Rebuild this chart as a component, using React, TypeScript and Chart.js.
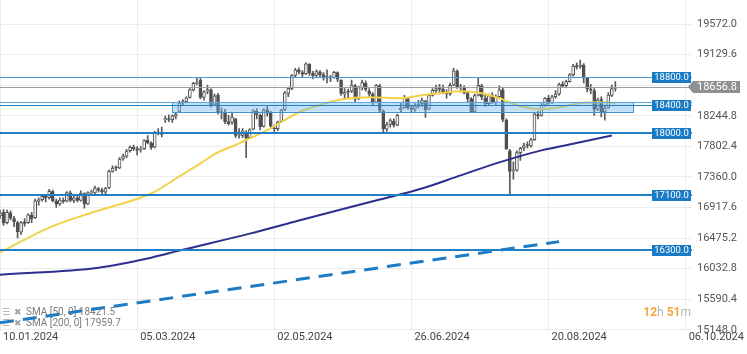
import React, { useEffect, useRef } from 'react';
import { Chart, registerables } from 'chart.js';

Chart.register(...registerables);

// ---- Candles (DE40 daily, index = trading day from 10.01.2024) ----
const opens = [
  16800, 16850, 16700, 16840, 16760, 16700, 16560, 16710, 16700, 16810,
  16770, 17010, 17030, 17080, 17060, 17150, 17010, 16970, 17020, 17010,
  17130, 17020, 17060, 17020, 17120, 16970, 17130, 17130, 17190, 17170,
  17140, 17200, 17440, 17490, 17490, 17620, 17660, 17740, 17790, 17770,
  17750, 17770, 17890, 17850, 17790, 18000, 18000, 18190, 18200, 18190,
  18240, 18300, 18430, 18450, 18510, 18620, 18710, 18760, 18510, 18600,
  18620, 18400, 18540, 18290, 18300, 18160, 18150, 18200, 17960, 17960,
  18010, 17930, 18050, 18310, 18250, 18090, 18330, 18280, 18060, 18060,
  18160, 18330, 18570, 18640, 18830, 18910, 18870, 18850, 18990, 18860,
  18830, 18880, 18840, 18800, 18790, 18800, 18870, 18760, 18560, 18590,
  18600, 18680, 18490, 18650, 18720, 18600, 18560, 18440, 18680, 18310,
  18050, 18120, 18170, 18110, 18330, 18360, 18500, 18360, 18340, 18390,
  18420, 18460, 18340, 18540, 18610, 18640, 18630, 18590, 18560, 18690,
  18890, 18650, 18650, 18580, 18490, 18310, 18540, 18680, 18500, 18420,
  18540, 18440, 18520, 18620, 18180, 17740, 17450, 17460, 17710, 17780,
  17820, 17810, 17900, 18260, 18250, 18400, 18500, 18430, 18520, 18560,
  18700, 18680, 18740, 18840, 18960, 18960, 18980, 18790, 18630, 18610,
  18340, 18480, 18300, 18360, 18540, 18640,
];
const highs = [
  16880, 16890, 16880, 16870, 16790, 16720, 16720, 16760, 16830, 16850,
  17040, 17060, 17110, 17100, 17180, 17170, 17040, 17060, 17060, 17150,
  17160, 17090, 17100, 17160, 17130, 17150, 17170, 17230, 17210, 17200,
  17210, 17460, 17520, 17520, 17640, 17690, 17760, 17810, 17820, 17800,
  17800, 17900, 17960, 17870, 18020, 18060, 18080, 18240, 18260, 18260,
  18290, 18460, 18480, 18520, 18640, 18730, 18800, 18790, 18610, 18690,
  18640, 18560, 18570, 18360, 18340, 18250, 18300, 18210, 18060, 18060,
  18030, 18060, 18330, 18350, 18270, 18350, 18380, 18310, 18110, 18170,
  18340, 18600, 18660, 18840, 18930, 18940, 18900, 19010, 19000, 18890,
  18910, 18900, 18870, 18910, 18830, 18890, 18880, 18770, 18640, 18630,
  18760, 18700, 18670, 18760, 18750, 18640, 18580, 18700, 18700, 18330,
  18150, 18200, 18200, 18270, 18420, 18540, 18510, 18400, 18420, 18470,
  18500, 18470, 18560, 18640, 18690, 18700, 18690, 18620, 18720, 18930,
  18910, 18700, 18680, 18600, 18510, 18560, 18790, 18700, 18540, 18560,
  18580, 18550, 18680, 18650, 18200, 17760, 17580, 17740, 17790, 17850,
  17870, 17920, 18300, 18310, 18420, 18510, 18540, 18540, 18610, 18720,
  18740, 18760, 18860, 18990, 19010, 19050, 19000, 18800, 18700, 18640,
  18500, 18520, 18400, 18580, 18690, 18740,
];
const lows = [
  16760, 16660, 16680, 16740, 16640, 16480, 16530, 16650, 16690, 16700,
  16760, 16950, 17010, 17000, 17040, 17000, 16920, 16950, 16980, 17000,
  17000, 16990, 17000, 17010, 16910, 16960, 17090, 17120, 17140, 17090,
  17110, 17190, 17430, 17450, 17480, 17600, 17640, 17720, 17740, 17680,
  17720, 17760, 17840, 17760, 17780, 17970, 17940, 18150, 18160, 18150,
  18200, 18290, 18400, 18430, 18500, 18600, 18690, 18490, 18470, 18560,
  18370, 18390, 18270, 18200, 18130, 18110, 18120, 17930, 17920, 17930,
  17640, 17920, 18040, 18200, 18040, 18080, 18240, 18060, 17990, 18030,
  18150, 18320, 18520, 18620, 18800, 18850, 18810, 18840, 18830, 18780,
  18810, 18800, 18760, 18720, 18740, 18790, 18740, 18540, 18500, 18500,
  18580, 18450, 18480, 18620, 18600, 18520, 18400, 18430, 18300, 18010,
  18020, 18080, 18080, 18100, 18300, 18350, 18340, 18300, 18310, 18360,
  18380, 18220, 18330, 18530, 18580, 18560, 18560, 18500, 18540, 18680,
  18640, 18590, 18560, 18450, 18290, 18300, 18530, 18480, 18380, 18400,
  18420, 18400, 18510, 18160, 17760, 17120, 17330, 17440, 17600, 17740,
  17780, 17790, 17890, 18200, 18240, 18380, 18410, 18420, 18500, 18540,
  18660, 18660, 18730, 18820, 18920, 18930, 18720, 18590, 18560, 18250,
  18320, 18230, 18180, 18350, 18520, 18600,
];
const closes = [
  16839, 16694, 16850, 16764, 16712, 16569, 16702, 16687, 16813, 16754,
  17014, 17029, 17080, 17059, 17151, 17016, 16968, 17025, 17008, 17134,
  17021, 17059, 17020, 17128, 16969, 17133, 17130, 17198, 17170, 17144,
  17191, 17441, 17487, 17489, 17619, 17662, 17736, 17790, 17769, 17748,
  17764, 17887, 17857, 17786, 18003, 17996, 17975, 18199, 18192, 18244,
  18268, 18429, 18452, 18504, 18624, 18713, 18725, 18512, 18593, 18626,
  18394, 18534, 18289, 18306, 18160, 18132, 18226, 17962, 17962, 18026,
  17922, 18042, 18316, 18264, 18089, 18329, 18283, 18094, 18054, 18156,
  18326, 18578, 18643, 18827, 18911, 18876, 18847, 18997, 18862, 18825,
  18885, 18840, 18791, 18798, 18797, 18874, 18774, 18567, 18586, 18585,
  18691, 18485, 18653, 18725, 18627, 18560, 18432, 18690, 18321, 18055,
  18117, 18177, 18110, 18250, 18354, 18512, 18361, 18336, 18390, 18411,
  18464, 18335, 18542, 18615, 18637, 18631, 18586, 18561, 18685, 18896,
  18661, 18660, 18578, 18491, 18305, 18538, 18686, 18513, 18422, 18538,
  18437, 18525, 18621, 18192, 17767, 17442, 17454, 17713, 17775, 17815,
  17815, 17898, 18269, 18247, 18400, 18497, 18429, 18518, 18560, 18697,
  18678, 18739, 18838, 18965, 18957, 18978, 18791, 18634, 18615, 18338,
  18476, 18296, 18358, 18543, 18640, 18656.8,
];

// ---- Moving averages (read at sample positions) ----
const sma50Index = [0, 14, 28, 43, 51, 57, 61, 68, 77, 85, 91, 97, 105, 114, 120, 125, 131, 137, 142, 148, 154, 159, 165, 171, 175];
const sma50Values = [16266, 16628, 16875, 17121, 17368, 17556, 17690, 17847, 18064, 18296, 18400, 18480, 18514, 18499, 18543, 18572, 18600, 18572, 18499, 18383, 18340, 18369, 18427, 18441, 18421.5];
const sma200Index = [0, 28, 43, 51, 71, 85, 97, 108, 120, 131, 142, 154, 165, 174];
const sma200Values = [15947, 16048, 16193, 16295, 16541, 16730, 16890, 17034, 17194, 17383, 17571, 17745, 17861, 17959.7];

// ---- Trend line ----
const trendIndex = [0, 159];
const trendValues = [15251, 16425];

// ---- Levels / zone / price ----
const levelValues = [18800, 18400, 18000, 17100, 16300];
const zoneRange = [18303, 18448];
const zoneIndexRange = [49, 180];
const currentPrice = 18656.8;

// ---- Axes ----
const xTickIndexes = [0, 39, 78, 117, 156, 195];
const xTickLabels = ['10.01.2024', '05.03.2024', '02.05.2024', '26.06.2024', '20.08.2024', '06.10.2024'];
const yTickValues = [15148.0, 15590.4, 16032.8, 16475.2, 16917.6, 17360.0, 17802.4, 18244.8, 18687.2, 19129.6, 19572.0];

// ---- Texts ----
const legendLines = ['SMA [50, 0] 18421.5', 'SMA [200, 0] 17959.7'];
const timerParts = ['12', 'h', ' 51', 'm'];

const overlayPlugin = {
  id: 'overlay',
  beforeDatasetsDraw(chart: any) {
    const { ctx, chartArea: a } = chart;
    ctx.save();
    ctx.textBaseline = 'middle';
    legendLines.forEach((t, k) => {
      const yy = a.bottom - 18 + k * 11;
      ctx.fillStyle = '#a3a3a3';
      ctx.font = '9px "DejaVu Sans"';
      ctx.textAlign = 'left';
      ctx.fillText('☰', a.left + 2, yy);
      ctx.fillText('✖', a.left + 14, yy);
      ctx.font = '10px Roboto';
      ctx.fillStyle = '#7a7a7a';
      ctx.fillText(t, a.left + 26, yy);
    });
    ctx.restore();
  },
  afterDatasetsDraw(chart: any) {
    const { ctx, chartArea: a, scales } = chart;
    const x = scales.x, y = scales.y;
    ctx.save();
    ctx.beginPath();
    ctx.rect(a.left, a.top, a.width, a.height);
    ctx.clip();
    const hline = (v: number, color: string, w: number) => {
      const py = Math.round(y.getPixelForValue(v)) + (w % 2 ? 0.5 : 0);
      ctx.strokeStyle = color;
      ctx.lineWidth = w;
      ctx.beginPath();
      ctx.moveTo(a.left, py);
      ctx.lineTo(a.right, py);
      ctx.stroke();
    };
    // zone
    const zx1 = x.getPixelForValue(zoneIndexRange[0]);
    const zx2 = x.getPixelForValue(zoneIndexRange[1]);
    const zy1 = y.getPixelForValue(zoneRange[1]);
    const zy2 = y.getPixelForValue(zoneRange[0]);
    ctx.fillStyle = 'rgba(105,182,240,0.42)';
    ctx.fillRect(zx1, zy1, zx2 - zx1, zy2 - zy1);
    ctx.strokeStyle = '#3b94d6';
    ctx.lineWidth = 1;
    ctx.strokeRect(Math.round(zx1) + 0.5, Math.round(zy1) + 0.5, Math.round(zx2 - zx1), Math.round(zy2 - zy1));
    hline(zoneRange[1], '#5ea8de', 1);
    // current price line
    hline(currentPrice, '#9c9c9c', 1);
    // levels
    levelValues.forEach((v) => {
      const w = v === 18800 ? 1 : v === 18400 ? 1 : 2;
      hline(v, v === 18800 ? '#4b9ad6' : '#2080c6', w);
    });
    ctx.restore();
  },
  afterDraw(chart: any) {
    const { ctx, chartArea: a, scales } = chart;
    const y = scales.y;
    ctx.save();
    ctx.textBaseline = 'middle';
    // level labels
    levelValues.forEach((v) => {
      const py = Math.round(y.getPixelForValue(v));
      ctx.fillStyle = '#1a7bc5';
      ctx.fillRect(a.right - 40, py - 5, 39, 11);
      ctx.fillStyle = '#ffffff';
      ctx.font = '9.5px Roboto';
      ctx.textAlign = 'center';
      ctx.fillText(v.toFixed(1), a.right - 20.5, py + 0.5);
    });
    // current price tag
    const py = Math.round(y.getPixelForValue(currentPrice));
    ctx.fillStyle = '#8d9093';
    ctx.beginPath();
    ctx.moveTo(a.right - 4, py);
    ctx.lineTo(a.right + 1, py - 6);
    ctx.lineTo(a.right + 48, py - 6);
    ctx.lineTo(a.right + 48, py + 6);
    ctx.lineTo(a.right + 1, py + 6);
    ctx.closePath();
    ctx.fill();
    ctx.fillStyle = '#ffffff';
    ctx.font = '11px Roboto';
    ctx.textAlign = 'right';
    ctx.fillText(currentPrice.toFixed(1), a.right + 45, py + 0.5);
    // timer
    ctx.textAlign = 'left';
    const fonts = ['bold 12px Roboto', '12px Roboto', 'bold 12px Roboto', '12px Roboto'];
    const colors = ['#f5a63a', '#b5b5b5', '#f5a63a', '#b5b5b5'];
    let total = 0;
    const widths = timerParts.map((t, k) => {
      ctx.font = fonts[k];
      const w = ctx.measureText(t).width;
      total += w;
      return w;
    });
    let tx = a.right - 1 - total;
    const ty = a.bottom - 18;
    timerParts.forEach((t, k) => {
      ctx.font = fonts[k];
      ctx.fillStyle = colors[k];
      ctx.fillText(t, tx, ty);
      tx += widths[k];
    });
    ctx.restore();
  },
};

export default function App() {
  const ref = useRef<HTMLCanvasElement>(null);
  useEffect(() => {
    const canvas = ref.current;
    if (!canvas) return;
    Chart.defaults.font.family = 'Roboto';
    const isUp = closes.map((c, i) => c >= opens[i]);
    const chart = new Chart(canvas, {
      type: 'bar',
      data: {
        datasets: [
          {
            type: 'line',
            data: sma50Index.map((x, k) => ({ x, y: sma50Values[k] })),
            borderColor: '#f3d24a',
            borderWidth: 2,
            pointRadius: 0,
            tension: 0.4,
            cubicInterpolationMode: 'monotone',
            order: 0,
          } as any,
          {
            type: 'line',
            data: sma200Index.map((x, k) => ({ x, y: sma200Values[k] })),
            borderColor: '#2d2f8e',
            borderWidth: 2,
            pointRadius: 0,
            tension: 0.4,
            cubicInterpolationMode: 'monotone',
            order: 0,
          } as any,
          {
            type: 'line',
            data: trendIndex.map((x, k) => ({ x, y: trendValues[k] })),
            borderColor: '#1d7cc3',
            borderWidth: 3,
            borderDash: [14, 9],
            pointRadius: 0,
            order: 0,
          } as any,
          {
            type: 'bar',
            data: closes.map((c, i) => ({ x: i, y: [opens[i], c] })),
            backgroundColor: isUp.map((u) => (u ? '#f7f7f7' : '#505050')),
            borderColor: '#505050',
            borderWidth: 1,
            borderSkipped: false,
            barThickness: 3,
            minBarLength: 1,
            grouped: false,
            order: 1,
          } as any,
          {
            type: 'bar',
            data: closes.map((_, i) => ({ x: i, y: [lows[i], highs[i]] })),
            backgroundColor: '#5a5a5a',
            borderWidth: 0,
            barThickness: 1,
            grouped: false,
            order: 2,
          } as any,
        ],
      },
      options: {
        animation: false,
        responsive: false,
        devicePixelRatio: 1,
        layout: { padding: { left: 0, top: 0, right: 10, bottom: 10 } },
        plugins: { legend: { display: false }, tooltip: { enabled: false } },
        scales: {
          x: {
            type: 'linear',
            min: 0,
            max: 196.8,
            offset: false,
            border: { display: false },
            grid: { color: '#ececec', offset: false, drawTicks: false },
            afterBuildTicks: (s: any) => {
              s.ticks = xTickIndexes.map((v) => ({ value: v }));
            },
            afterFit: (s: any) => {
              s.paddingLeft = 0;
              s.paddingRight = 0;
            },
            ticks: {
              autoSkip: false,
              maxRotation: 0,
              align: 'start',
              labelOffset: 3,
              padding: 0,
              color: '#444444',
              font: { size: 11 },
              callback: (v: any) => {
                const k = xTickIndexes.indexOf(Number(v));
                return k >= 0 ? xTickLabels[k] : '';
              },
            },
          },
          y: {
            type: 'linear',
            position: 'right',
            min: 15135,
            max: 19920,
            beginAtZero: false,
            border: { display: false },
            grid: { color: '#ececec', drawTicks: false },
            afterBuildTicks: (s: any) => {
              s.ticks = yTickValues.map((v) => ({ value: v }));
            },
            afterFit: (s: any) => {
              s.width = 45;
              s.paddingTop = 0;
              s.paddingBottom = 0;
            },
            ticks: {
              padding: 6,
              crossAlign: 'far',
              color: '#555555',
              font: { size: 11 },
              callback: (v: any) => (Math.abs(Number(v) - currentPrice) < 100 ? '' : Number(v).toFixed(1)),
            },
          },
        },
      } as any,
      plugins: [overlayPlugin],
    } as any);
    return () => chart.destroy();
  }, []);
  return (
    <div style={{ position: 'fixed', left: 0, top: 0, width: 747, height: 354, background: '#fff' }}>
      <canvas ref={ref} width={747} height={354} style={{ display: 'block', width: 747, height: 354 }} />
    </div>
  );
}
